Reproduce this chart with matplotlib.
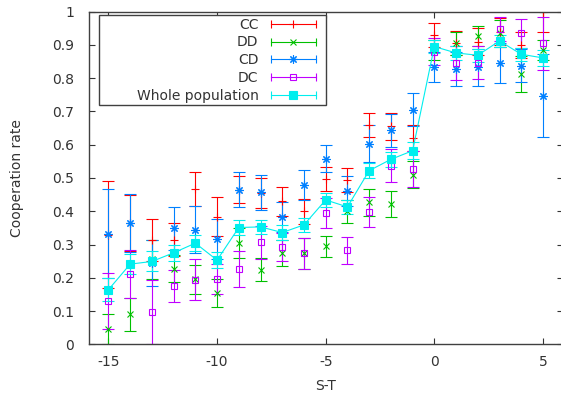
import matplotlib

matplotlib.use("Agg")
import matplotlib.pyplot as plt
from matplotlib.legend_handler import HandlerLine2D, HandlerTuple
from matplotlib.lines import Line2D
from matplotlib.patches import Rectangle

S_T = list(range(-15, 6))

CC = [0.33, 0.365, 0.313, 0.315, 0.467, 0.384, 0.465, 0.455, 0.43, 0.40, 0.497,
      0.495, 0.66, 0.655, 0.62, 0.93, 0.905, 0.91, 0.94, 0.90, 1.0]
CC_ERR = [0.16, 0.085, 0.063, 0.05, 0.05, 0.058, 0.04, 0.045, 0.043, 0.037, 0.035,
          0.036, 0.036, 0.04, 0.04, 0.035, 0.036, 0.04, 0.04, 0.04, 0.06]

DD = [0.045, 0.09, 0.255, 0.227, 0.195, 0.155, 0.305, 0.224, 0.275, 0.273, 0.295,
      0.40, 0.427, 0.422, 0.51, 0.885, 0.905, 0.927, 0.935, 0.813, 0.885]
DD_ERR = [0.045, 0.05, 0.058, 0.04, 0.043, 0.042, 0.045, 0.035, 0.04, 0.046, 0.032,
          0.034, 0.04, 0.04, 0.04, 0.03, 0.035, 0.03, 0.04, 0.055, 0.03]

CD = [0.333, 0.365, 0.245, 0.349, 0.345, 0.316, 0.465, 0.457, 0.382, 0.48, 0.558,
      0.46, 0.603, 0.643, 0.705, 0.833, 0.828, 0.833, 0.845, 0.838, 0.748]
CD_ERR = [0.134, 0.087, 0.07, 0.065, 0.07, 0.06, 0.053, 0.053, 0.045, 0.045, 0.04,
          0.045, 0.055, 0.05, 0.05, 0.045, 0.05, 0.055, 0.06, 0.05, 0.125]

DC = [0.13, 0.21, 0.097, 0.175, 0.194, 0.197, 0.226, 0.307, 0.293, 0.273, 0.395,
      0.282, 0.397, 0.537, 0.527, 0.88, 0.846, 0.847, 0.948, 0.935, 0.905]
DC_ERR = [0.085, 0.072, 0.097, 0.048, 0.062, 0.045, 0.054, 0.05, 0.042, 0.047, 0.045,
          0.042, 0.045, 0.05, 0.055, 0.04, 0.05, 0.05, 0.037, 0.043, 0.08]

WHOLE = [0.164, 0.241, 0.249, 0.275, 0.304, 0.253, 0.351, 0.353, 0.336, 0.359, 0.434,
         0.413, 0.522, 0.556, 0.582, 0.895, 0.876, 0.869, 0.912, 0.872, 0.861]
WHOLE_ERR = [0.035, 0.03, 0.03, 0.025, 0.025, 0.025, 0.022, 0.022, 0.022, 0.022, 0.02,
             0.02, 0.022, 0.022, 0.025, 0.02, 0.02, 0.02, 0.018, 0.02, 0.025]

X_TICKS = [-15, -10, -5, 0, 5]
Y_TICKS = [0, 0.1, 0.2, 0.3, 0.4, 0.5, 0.6, 0.7, 0.8, 0.9, 1]

# gnuplot default line colours
COLORS = {
    "CC": "#ff0000",
    "DD": "#00c000",
    "CD": "#0080ff",
    "DC": "#c000ff",
    "Whole population": "#00eeee",
}

TEXT_COLOR = "#333333"
LW = 0.8

plt.rcParams["font.family"] = "DejaVu Sans"
plt.rcParams["font.size"] = 10


def main():
    fig = plt.figure(figsize=(5.61, 3.95), dpi=100)
    ax = fig.add_axes([0.1592, 0.1284, 0.8435, 0.842])

    series = [
        ("CC", CC, CC_ERR, "+", 5.5, "none"),
        ("DD", DD, DD_ERR, "x", 4.5, "none"),
        ("CD", CD, CD_ERR, (8, 2, 0), 6, "none"),
        ("DC", DC, DC_ERR, "s", 5, "none"),
        ("Whole population", WHOLE, WHOLE_ERR, "s", 5.5, "-"),
    ]

    handles = []
    labels = []
    handler_map = {tuple: HandlerTuple(ndivide=1, pad=0)}

    for name, values, errs, marker, size, ls in series:
        color = COLORS[name]
        face = color if name == "Whole population" else "none"
        ax.errorbar(
            S_T,
            values,
            yerr=errs,
            color=color,
            linestyle=ls,
            linewidth=LW,
            elinewidth=LW,
            capsize=4.5,
            capthick=LW,
            marker=marker,
            markersize=size,
            markeredgewidth=LW,
            markerfacecolor=face,
            markeredgecolor=color,
        )

        # gnuplot draws the key sample as a horizontal bar with end caps
        bar = Line2D([], [], color=color, linewidth=LW, marker="|", markersize=6,
                     markeredgewidth=LW)
        point = Line2D([], [], color=color, linestyle="none", marker=marker,
                       markersize=size, markeredgewidth=LW,
                       markerfacecolor=face, markeredgecolor=color)
        handler_map[bar] = HandlerLine2D(numpoints=2, marker_pad=0)
        handles.append((bar, point))
        labels.append(name)

    ax.set_xlim(-15.88, 5.9)
    ax.set_ylim(0, 1)
    ax.set_xticks(X_TICKS)
    ax.set_xticklabels([f"{t:g}" for t in X_TICKS])
    ax.set_yticks(Y_TICKS)
    ax.set_yticklabels([f"{t:g}" for t in Y_TICKS])
    ax.tick_params(direction="in", length=4, width=0.8, color=TEXT_COLOR,
                   top=True, right=True, labelcolor=TEXT_COLOR)
    ax.tick_params(axis="x", pad=8)
    ax.tick_params(axis="y", pad=11)

    for spine in ax.spines.values():
        spine.set_color("#404040")
        spine.set_linewidth(1.0)

    ax.set_xlabel("S-T", color=TEXT_COLOR, labelpad=7)
    ax.set_ylabel("Cooperation rate", color=TEXT_COLOR, labelpad=20)

    # legend in gnuplot style: text on the left, sample on the right
    leg = ax.legend(
        handles,
        labels,
        handler_map=handler_map,
        loc="upper right",
        bbox_to_anchor=(0.478, 0.982),
        frameon=False,
        markerfirst=False,
        handlelength=3.2,
        handletextpad=0.9,
        labelspacing=0.27,
        borderpad=0,
        borderaxespad=0,
    )
    leg.set_zorder(6)
    for text in leg.get_texts():
        text.set_color(TEXT_COLOR)

    ax.add_patch(Rectangle((0.0211, 0.7187), 0.4786, 0.2704, transform=ax.transAxes,
                           facecolor="white", edgecolor="#404040", linewidth=1.0,
                           zorder=5))

    fig.savefig("out.png", dpi=100)
    plt.close(fig)


if __name__ == "__main__":
    main()
